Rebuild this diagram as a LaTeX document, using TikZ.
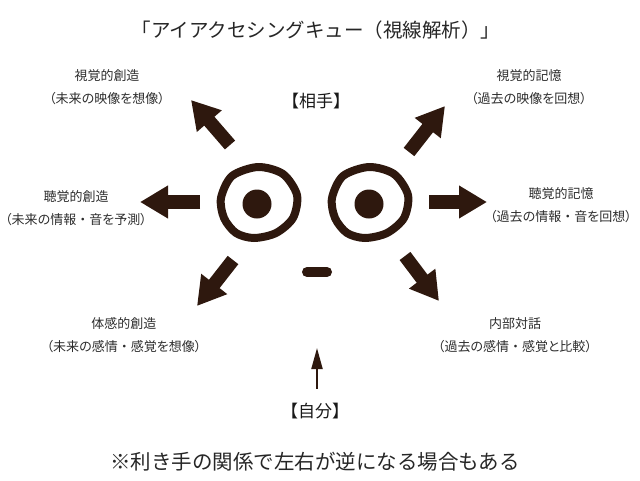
\documentclass[tikz,border=0pt]{standalone}
\usepackage{fontspec}
\setmainfont{Noto Sans CJK JP}
\newfontfamily\cuefont{Noto Sans CJK JP}[RawFeature=+palt]
\usetikzlibrary{arrows.meta}
\definecolor{eyebrown}{RGB}{46,24,14}
\definecolor{cuegray}{RGB}{45,45,45}
\newcommand{\nakaguro}{{\rmfamily ・}}

\begin{document}
\begin{tikzpicture}[x=1pt, y=-1pt,
  cuetext/.style={align=center, text=cuegray, font=\cuefont\fontsize{13}{23.5}\selectfont},
  sidetext/.style={text=black!90, font=\fontsize{17}{19}\selectfont},
  bigarrow/.style={eyebrown, line width=13.5pt, -{Triangle[length=28pt, width=31pt]}},
  eyering/.style={eyebrown, line width=8pt}]

\useasboundingbox (0,0) rectangle (640,480);

\node[text=black!85, font=\fontsize{19.5}{22}\selectfont] (title) at (316,30) {「アイアクセシングキュー（視線解析）」};

\node[sidetext] (aite) at (316,101) {【相手】};
\node[sidetext] (jibun) at (315,411) {【自分】};

\node[cuetext] (vc) at (107,87) {視覚的創造\\（未来の映像を想像）};
\node[cuetext] (vr) at (529,87) {視覚的記憶\\（過去の映像を回想）};
\node[cuetext] (ac) at (76,208) {聴覚的創造\\（未来の情報\nakaguro 音を予測）};
\node[cuetext] (ar) at (561,205) {聴覚的記憶\\（過去の情報\nakaguro 音を回想）};
\node[cuetext] (kc) at (124,335) {体感的創造\\（未来の感情\nakaguro 感覚を想像）};
\node[cuetext] (ad) at (515,335) {内部対話\\（過去の感情\nakaguro 感覚と比較）};

\node[text=black!85, font=\fontsize{20.5}{23}\selectfont] (note) at (315,462) {※利き手の関係で左右が逆になる場合もある};

% eyes
\draw[eyering] plot[smooth cycle] coordinates {(258,167) (283,174) (297,195) (293,218) (276,233) (254,238) (236,233) (224,218) (221,198) (232,176)};
\draw[eyering, shift={(111,0)}] plot[smooth cycle] coordinates {(258,167) (283,174) (297,195) (293,218) (276,233) (254,238) (236,233) (224,218) (221,198) (232,176)};
\fill[eyebrown] (257,204) circle (14.5);
\fill[eyebrown] (369,204) circle (14.5);

% mouth
\draw[eyebrown, line width=10pt, line cap=round] (307,272) -- (327,272);

% arrow ends
\coordinate (ulTail) at (230,145);
\coordinate (ulTip) at (191,100);
\coordinate (lTail) at (200,202);
\coordinate (lTip) at (140,202);
\coordinate (llTail) at (233,260);
\coordinate (llTip) at (197,306);
\coordinate (urTail) at (409,152);
\coordinate (urTip) at (445,106);
\coordinate (rTail) at (429,202);
\coordinate (rTip) at (487,202);
\coordinate (lrTail) at (405,256);
\coordinate (lrTip) at (439,301);

\draw[bigarrow] (ulTail) -- (ulTip);
\draw[bigarrow] (lTail) -- (lTip);
\draw[bigarrow] (llTail) -- (llTip);
\draw[bigarrow] (urTail) -- (urTip);
\draw[bigarrow] (rTail) -- (rTip);
\draw[bigarrow] (lrTail) -- (lrTip);

% self arrow
\coordinate (selfTip) at (317,348);
\draw[eyebrown, line width=2pt, -{Triangle[length=21pt, width=11pt]}] (jibun.north) ++(2,-11) -- (selfTip);

\end{tikzpicture}
\end{document}
